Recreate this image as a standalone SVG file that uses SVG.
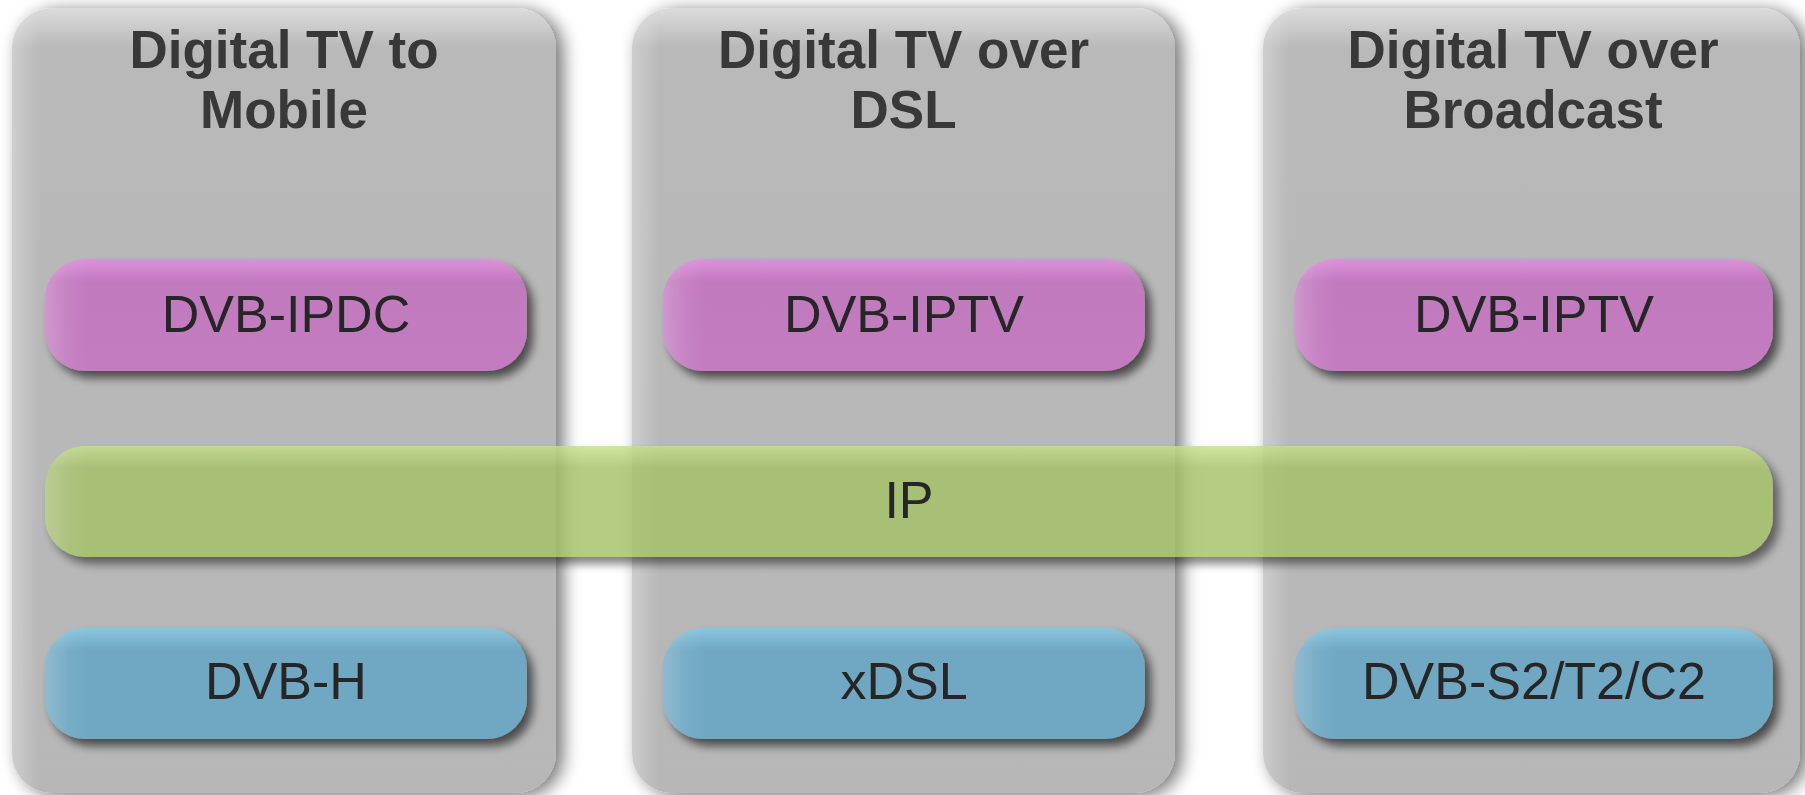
<svg xmlns="http://www.w3.org/2000/svg" width="1805" height="795" viewBox="0 0 1805 795">
  <defs>
    <!-- soft drop shadow for the tall columns -->
    <filter id="colShadow" x="-10%" y="-10%" width="125%" height="125%">
      <feGaussianBlur in="SourceAlpha" stdDeviation="9"/>
      <feOffset dx="7" dy="3" result="b"/>
      <feComponentTransfer><feFuncA type="linear" slope="0.55"/></feComponentTransfer>
      <feMerge><feMergeNode/><feMergeNode in="SourceGraphic"/></feMerge>
    </filter>
    <!-- drop shadow for the layer boxes -->
    <filter id="boxShadow" x="-10%" y="-20%" width="125%" height="150%">
      <feGaussianBlur in="SourceAlpha" stdDeviation="5"/>
      <feOffset dx="6" dy="7" result="b"/>
      <feComponentTransfer><feFuncA type="linear" slope="0.6"/></feComponentTransfer>
      <feMerge><feMergeNode/><feMergeNode in="SourceGraphic"/></feMerge>
    </filter>
    <!-- blurs the left-edge sheen so it follows the rounded outline softly -->
    <filter id="soft" x="-5%" y="-5%" width="110%" height="110%">
      <feGaussianBlur stdDeviation="4"/>
    </filter>

    <!-- vertical fills with a lighter top edge -->
    <linearGradient id="gGray" x1="0" y1="0" x2="0" y2="1">
      <stop offset="0" stop-color="#dcdcdc"/>
      <stop offset="0.05" stop-color="#b9b9b9"/>
      <stop offset="1" stop-color="#b7b7b7"/>
    </linearGradient>
    <linearGradient id="gPurple" x1="0" y1="0" x2="0" y2="1">
      <stop offset="0" stop-color="#dc92da"/>
      <stop offset="0.2" stop-color="#c27abf"/>
      <stop offset="1" stop-color="#c37bc0"/>
    </linearGradient>
    <linearGradient id="gGreen" x1="0" y1="0" x2="0" y2="1">
      <stop offset="0" stop-color="#c6e08a"/>
      <stop offset="0.2" stop-color="#a5c168"/>
      <stop offset="1" stop-color="#a5c168"/>
    </linearGradient>
    <linearGradient id="gBlue" x1="0" y1="0" x2="0" y2="1">
      <stop offset="0" stop-color="#8ac5de"/>
      <stop offset="0.2" stop-color="#6fa8c3"/>
      <stop offset="1" stop-color="#6fa8c3"/>
    </linearGradient>

    <!-- light sheen along the left edge -->
    <linearGradient id="sheenBox" x1="0" y1="0" x2="1" y2="0">
      <stop offset="0" stop-color="#ffffff" stop-opacity="0.22"/>
      <stop offset="0.05" stop-color="#ffffff" stop-opacity="0.05"/>
      <stop offset="0.09" stop-color="#ffffff" stop-opacity="0"/>
    </linearGradient>
    <linearGradient id="sheenBar" x1="0" y1="0" x2="1" y2="0">
      <stop offset="0" stop-color="#ffffff" stop-opacity="0.22"/>
      <stop offset="0.014" stop-color="#ffffff" stop-opacity="0.05"/>
      <stop offset="0.025" stop-color="#ffffff" stop-opacity="0"/>
    </linearGradient>
    <linearGradient id="sheenCol" x1="0" y1="0" x2="1" y2="0">
      <stop offset="0" stop-color="#ffffff" stop-opacity="0.3"/>
      <stop offset="0.05" stop-color="#ffffff" stop-opacity="0"/>
    </linearGradient>
  </defs>

  <style>
    .title { font-family: "Liberation Sans", Arial, sans-serif; font-weight: bold; font-size: 53px; fill: #383838; text-anchor: middle; }
    .label { font-family: "Liberation Sans", Arial, sans-serif; font-size: 52px; fill: #262626; text-anchor: middle; }
  </style>

  <rect width="1805" height="795" fill="#ffffff"/>

  <!-- columns -->
  <g id="col-mobile">
    <g filter="url(#colShadow)">
      <rect x="12" y="8" width="544" height="785" rx="40" fill="url(#gGray)"/>
    </g>
    <rect x="12" y="8" width="544" height="785" rx="40" fill="url(#sheenCol)"/>
    <text class="title" x="284" y="68">Digital TV to</text>
    <text class="title" x="284" y="128">Mobile</text>
  </g>
  <g id="col-dsl">
    <g filter="url(#colShadow)">
      <rect x="632" y="8" width="543" height="785" rx="40" fill="url(#gGray)"/>
    </g>
    <rect x="632" y="8" width="543" height="785" rx="40" fill="url(#sheenCol)"/>
    <text class="title" x="903.5" y="68">Digital TV over</text>
    <text class="title" x="903.5" y="128">DSL</text>
  </g>
  <g id="col-broadcast">
    <g filter="url(#colShadow)">
      <rect x="1263" y="8" width="537" height="785" rx="40" fill="url(#gGray)"/>
    </g>
    <rect x="1263" y="8" width="537" height="785" rx="40" fill="url(#sheenCol)"/>
    <text class="title" x="1533" y="68">Digital TV over</text>
    <text class="title" x="1533" y="128">Broadcast</text>
  </g>

  <!-- service layer -->
  <g id="dvb-ipdc">
    <rect x="45" y="259" width="482" height="112" rx="40" fill="url(#gPurple)" filter="url(#boxShadow)"/>
    <rect x="45" y="259" width="482" height="112" rx="40" fill="url(#sheenBox)"/>
    <text class="label" x="286" y="332">DVB-IPDC</text>
  </g>
  <g id="dvb-iptv-dsl">
    <rect x="663" y="259" width="482" height="112" rx="40" fill="url(#gPurple)" filter="url(#boxShadow)"/>
    <rect x="663" y="259" width="482" height="112" rx="40" fill="url(#sheenBox)"/>
    <text class="label" x="904" y="332">DVB-IPTV</text>
  </g>
  <g id="dvb-iptv-broadcast">
    <rect x="1295" y="259" width="478" height="112" rx="40" fill="url(#gPurple)" filter="url(#boxShadow)"/>
    <rect x="1295" y="259" width="478" height="112" rx="40" fill="url(#sheenBox)"/>
    <text class="label" x="1534" y="332">DVB-IPTV</text>
  </g>

  <!-- shared IP layer, slightly translucent -->
  <g id="ip">
    <g opacity="0.82">
      <rect x="45" y="446" width="1728" height="111" rx="40" fill="url(#gGreen)" filter="url(#boxShadow)"/>
    </g>
    <rect x="45" y="446" width="1728" height="111" rx="40" fill="url(#sheenBar)"/>
    <text class="label" x="909" y="518">IP</text>
  </g>

  <!-- physical layer -->
  <g id="dvb-h">
    <rect x="45" y="628" width="482" height="111" rx="40" fill="url(#gBlue)" filter="url(#boxShadow)"/>
    <rect x="45" y="628" width="482" height="111" rx="40" fill="url(#sheenBox)"/>
    <text class="label" x="286" y="699">DVB-H</text>
  </g>
  <g id="xdsl">
    <rect x="663" y="628" width="482" height="111" rx="40" fill="url(#gBlue)" filter="url(#boxShadow)"/>
    <rect x="663" y="628" width="482" height="111" rx="40" fill="url(#sheenBox)"/>
    <text class="label" x="904" y="699">xDSL</text>
  </g>
  <g id="dvb-s2-t2-c2">
    <rect x="1295" y="628" width="478" height="111" rx="40" fill="url(#gBlue)" filter="url(#boxShadow)"/>
    <rect x="1295" y="628" width="478" height="111" rx="40" fill="url(#sheenBox)"/>
    <text class="label" x="1534" y="699">DVB-S2/T2/C2</text>
  </g>
</svg>
